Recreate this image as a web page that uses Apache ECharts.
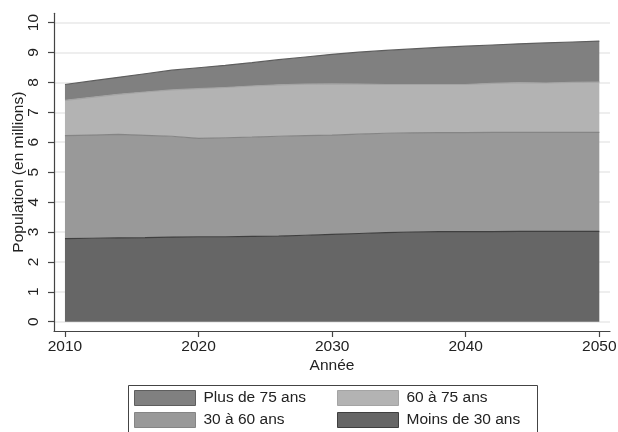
<!DOCTYPE html>
<html>
<head>
<meta charset="utf-8">
<script src="https://cdn.jsdelivr.net/npm/echarts@6/dist/echarts.min.js"></script>
<style>html,body{margin:0;padding:0;background:#fff}#c{width:618px;height:432px}</style>
</head>
<body>
<div id="c"></div>
<script>
const years = [2010,2012,2014,2016,2018,2020,2022,2024,2026,2028,2030,2032,2034,2036,2038,2040,2042,2044,2046,2048,2050];
const moins30 = [2.78,2.79,2.80,2.81,2.83,2.84,2.84,2.85,2.86,2.89,2.92,2.95,2.98,3.00,3.01,3.01,3.01,3.02,3.02,3.02,3.02];
const de30a60 = [3.44,3.45,3.46,3.42,3.37,3.29,3.31,3.32,3.34,3.33,3.32,3.32,3.32,3.31,3.31,3.31,3.32,3.31,3.31,3.31,3.31];
const de60a75 = [1.18,1.26,1.34,1.45,1.55,1.66,1.68,1.71,1.72,1.72,1.71,1.67,1.63,1.62,1.61,1.61,1.64,1.66,1.65,1.67,1.68];
const plus75  = [0.53,0.55,0.57,0.61,0.66,0.70,0.74,0.78,0.84,0.91,0.99,1.07,1.14,1.19,1.24,1.28,1.28,1.30,1.34,1.35,1.37];
const xTicks = [2010,2020,2030,2040,2050];
const yTicks = [0,1,2,3,4,5,6,7,8,9,10];
const seriesNames = ['Moins de 30 ans','30 à 60 ans','60 à 75 ans','Plus de 75 ans'];
// legend grid: [name, column, row]
const legendLayout = [['Plus de 75 ans',0,0],['60 à 75 ans',1,0],['30 à 60 ans',0,1],['Moins de 30 ans',1,1]];

const fills = {'Moins de 30 ans':'#666666','30 à 60 ans':'#999999','60 à 75 ans':'#b3b3b3','Plus de 75 ans':'#808080'};
const lines = {'Moins de 30 ans':'#3f3f3f','30 à 60 ans':'#858585','60 à 75 ans':'#a4a4a4','Plus de 75 ans':'#5e5e5e'};
const values = {'Moins de 30 ans':moins30,'30 à 60 ans':de30a60,'60 à 75 ans':de60a75,'Plus de 75 ans':plus75};

const font = 'Liberation Sans, Arial, Helvetica, sans-serif';
function legendItem(n, col, row) {
  return {
    data: [{name:n, itemStyle:{color:fills[n], borderColor:lines[n], borderWidth:1}}],
    icon:'rect', left:127 + col*203, top:383 + row*22, orient:'horizontal',
    itemWidth:61, itemHeight:15, itemGap:7,
    padding:[7,7,7,7],
    formatter: n => '{t|' + n + '}',
    textStyle:{fontSize:15.5, color:'#222', fontFamily:font,
      rich:{t:{fontSize:15.5, color:'#222', fontFamily:font, padding:[0,0,0,3]}}}
  };
}
const chart = echarts.init(document.getElementById('c'), null, {renderer:'canvas'});
chart.setOption({
  animation:false,
  backgroundColor:'#ffffff',
  grid:{left:54, right:8, top:13.3, bottom:101, containLabel:false, outerBoundsMode:'none'},
  xAxis:{
    type:'value', min:2009.18, max:2050.8,
    axisLine:{show:true, onZero:false, lineStyle:{color:'#444', width:1.2}},
    axisTick:{show:true, length:6, customValues:xTicks, lineStyle:{color:'#444', width:1.2}},
    axisLabel:{customValues:xTicks, margin:8, fontSize:15.5, color:'#222', fontFamily:font, formatter:v=>String(v)},
    splitLine:{show:false},
    name:'Année', nameLocation:'middle', nameGap:27, nameMoveOverlap:false,
    nameTextStyle:{fontSize:15.5, color:'#222', fontFamily:font}
  },
  yAxis:{
    type:'value', min:-0.31, max:10.31,
    axisLine:{show:true, onZero:false, lineStyle:{color:'#444', width:1.2}},
    axisTick:{show:true, length:6, customValues:yTicks, lineStyle:{color:'#444', width:1.2}},
    axisLabel:{customValues:yTicks, rotate:90, margin:12, fontSize:15.5, color:'#222', fontFamily:font, formatter:v=>String(v)},
    splitLine:{show:true, lineStyle:{color:'#e8e8e8', width:1.5}},
    name:'Population (en millions)', nameLocation:'middle', nameGap:27, nameMoveOverlap:false,
    nameTextStyle:{fontSize:15.5, color:'#222', fontFamily:font}
  },
  legend: legendLayout.map(l => legendItem(l[0], l[1], l[2])),
  graphic:[{type:'rect', left:126, top:383, shape:{width:409, height:60},
    style:{fill:'none', stroke:'#444', lineWidth:1}, silent:true, z:10}],
  series: seriesNames.map(n=>({
    name:n, type:'line', stack:'pop',
    dimensions:['v','year'],
    encode:{x:'year', y:'v'},
    data: years.map((y,i)=>[values[n][i], y]),
    showSymbol:false, symbol:'none',
    itemStyle:{color:fills[n]},
    lineStyle:{color:lines[n], width:1.2},
    areaStyle:{color:fills[n], opacity:1}
  }))
});
</script>
</body>
</html>
